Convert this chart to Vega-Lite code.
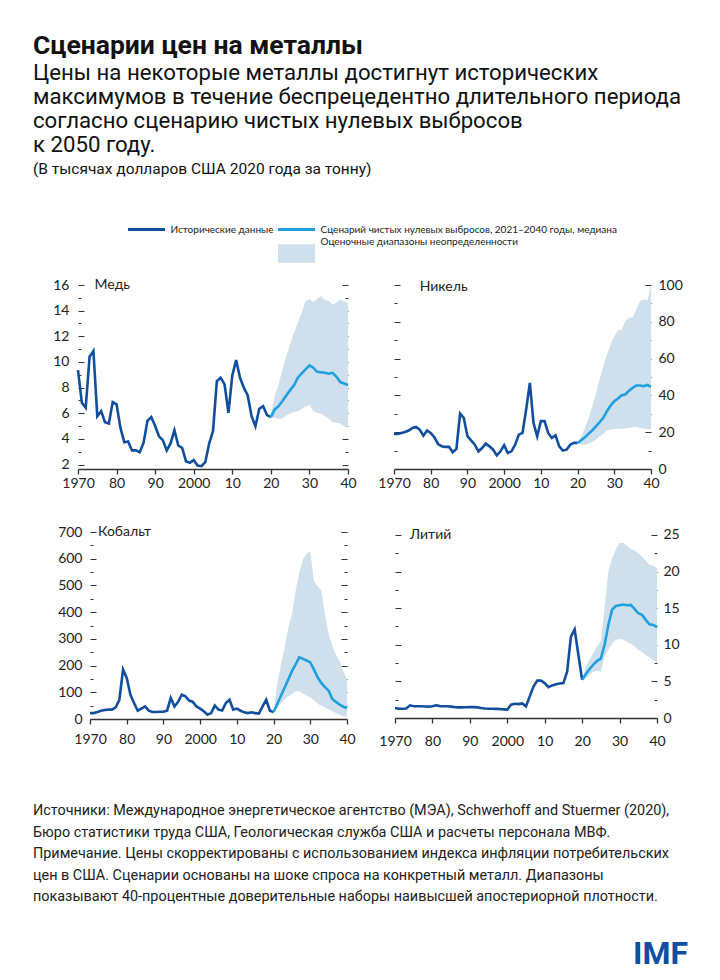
{
"$schema": "https://vega.github.io/schema/vega-lite/v6.json",
"background": "white",
"padding": {"left": 33, "top": 33, "right": 5, "bottom": 5},
"config": {"view": {"stroke": null}, "font": "Lato",
  "axis": {"labelFont": "Lato", "labelFontSize": 14, "labelColor": "#222", "tickColor": "#333", "domainColor": "#333", "grid": false},
  "axisX": {"domain": true, "domainWidth": 1.3, "domainColor": "#333", "ticks": true, "tickWidth": 1.3, "tickColor": "#333"}},
"title": {"text": "Сценарии цен на металлы",
  "subtitle": ["Цены на некоторые металлы достигнут исторических", "максимумов в течение беспрецедентно длительного периода", "согласно сценарию чистых нулевых выбросов", "к 2050 году."],
  "anchor": "start", "font": "Roboto", "fontSize": 26.5, "fontWeight": "bold", "color": "#111",
  "subtitleFont": "Roboto", "subtitleFontSize": 22.2, "subtitleColor": "#111", "subtitleLineHeight": 24, "subtitlePadding": 2, "offset": 6},
"datasets": {
"legend": [
 {"series": "Исторические данные", "kind": "line", "col": 0, "row": 0},
 {"series": "Сценарий чистых нулевых выбросов, 2021–2040 годы, медиана", "kind": "line", "col": 1, "row": 0},
 {"series": "Оценочные диапазоны неопределенности", "kind": "band", "col": 1, "row": 1}
],
"hist": [
{"m":"cu","year":1970,"value":9.36},{"m":"cu","year":1971,"value":6.81},{"m":"cu","year":1972,"value":6.42},{"m":"cu","year":1973,"value":10.4},{"m":"cu","year":1974,"value":10.85},{"m":"cu","year":1975,"value":5.77},{"m":"cu","year":1976,"value":6.16},{"m":"cu","year":1977,"value":5.3},{"m":"cu","year":1978,"value":5.2},{"m":"cu","year":1979,"value":6.87},
{"m":"cu","year":1980,"value":6.7},{"m":"cu","year":1981,"value":4.86},{"m":"cu","year":1982,"value":3.74},{"m":"cu","year":1983,"value":3.8},{"m":"cu","year":1984,"value":3.1},{"m":"cu","year":1985,"value":3.1},{"m":"cu","year":1986,"value":2.96},{"m":"cu","year":1987,"value":3.7},{"m":"cu","year":1988,"value":5.4},{"m":"cu","year":1989,"value":5.7},
{"m":"cu","year":1990,"value":5.0},{"m":"cu","year":1991,"value":4.2},{"m":"cu","year":1992,"value":3.9},{"m":"cu","year":1993,"value":3.1},{"m":"cu","year":1994,"value":3.64},{"m":"cu","year":1995,"value":4.68},{"m":"cu","year":1996,"value":3.48},{"m":"cu","year":1997,"value":3.3},{"m":"cu","year":1998,"value":2.26},{"m":"cu","year":1999,"value":2.13},
{"m":"cu","year":2000,"value":2.34},{"m":"cu","year":2001,"value":1.92},{"m":"cu","year":2002,"value":1.87},{"m":"cu","year":2003,"value":2.18},{"m":"cu","year":2004,"value":3.64},{"m":"cu","year":2005,"value":4.6},{"m":"cu","year":2006,"value":8.5},{"m":"cu","year":2007,"value":8.77},{"m":"cu","year":2008,"value":8.25},{"m":"cu","year":2009,"value":6.03},
{"m":"cu","year":2010,"value":8.95},{"m":"cu","year":2011,"value":10.14},{"m":"cu","year":2012,"value":8.77},{"m":"cu","year":2013,"value":7.99},{"m":"cu","year":2014,"value":7.39},{"m":"cu","year":2015,"value":5.77},{"m":"cu","year":2016,"value":4.99},{"m":"cu","year":2017,"value":6.35},{"m":"cu","year":2018,"value":6.55},{"m":"cu","year":2019,"value":5.85},{"m":"cu","year":2020,"value":5.7},
{"m":"ni","year":1970,"value":19.1},{"m":"ni","year":1971,"value":19},{"m":"ni","year":1972,"value":19.6},{"m":"ni","year":1973,"value":20.1},{"m":"ni","year":1974,"value":20.9},{"m":"ni","year":1975,"value":22.3},{"m":"ni","year":1976,"value":22.9},{"m":"ni","year":1977,"value":21.4},{"m":"ni","year":1978,"value":18.1},{"m":"ni","year":1979,"value":20.9},
{"m":"ni","year":1980,"value":19.6},{"m":"ni","year":1981,"value":17.2},{"m":"ni","year":1982,"value":13.6},{"m":"ni","year":1983,"value":12.3},{"m":"ni","year":1984,"value":12},{"m":"ni","year":1985,"value":12},{"m":"ni","year":1986,"value":9.1},{"m":"ni","year":1987,"value":10.9},{"m":"ni","year":1988,"value":30.1},{"m":"ni","year":1989,"value":27.8},
{"m":"ni","year":1990,"value":17.8},{"m":"ni","year":1991,"value":15.6},{"m":"ni","year":1992,"value":13.2},{"m":"ni","year":1993,"value":9.6},{"m":"ni","year":1994,"value":11.4},{"m":"ni","year":1995,"value":13.8},{"m":"ni","year":1996,"value":12.3},{"m":"ni","year":1997,"value":10.5},{"m":"ni","year":1998,"value":7.4},{"m":"ni","year":1999,"value":9.6},
{"m":"ni","year":2000,"value":12.9},{"m":"ni","year":2001,"value":8.7},{"m":"ni","year":2002,"value":9.6},{"m":"ni","year":2003,"value":13.2},{"m":"ni","year":2004,"value":18.7},{"m":"ni","year":2005,"value":19.6},{"m":"ni","year":2006,"value":32.3},{"m":"ni","year":2007,"value":46.8},{"m":"ni","year":2008,"value":25},{"m":"ni","year":2009,"value":17.8},
{"m":"ni","year":2010,"value":26},{"m":"ni","year":2011,"value":26},{"m":"ni","year":2012,"value":19.6},{"m":"ni","year":2013,"value":16.9},{"m":"ni","year":2014,"value":18.3},{"m":"ni","year":2015,"value":12.3},{"m":"ni","year":2016,"value":10},{"m":"ni","year":2017,"value":10.5},{"m":"ni","year":2018,"value":13.2},{"m":"ni","year":2019,"value":14.2},{"m":"ni","year":2020,"value":14.2},
{"m":"co","year":1970,"value":22},{"m":"co","year":1971,"value":22},{"m":"co","year":1972,"value":26},{"m":"co","year":1973,"value":31},{"m":"co","year":1974,"value":34},{"m":"co","year":1975,"value":35},{"m":"co","year":1976,"value":35},{"m":"co","year":1977,"value":44},{"m":"co","year":1978,"value":72},{"m":"co","year":1979,"value":185},
{"m":"co","year":1980,"value":154},{"m":"co","year":1981,"value":91},{"m":"co","year":1982,"value":60},{"m":"co","year":1983,"value":31},{"m":"co","year":1984,"value":39},{"m":"co","year":1985,"value":47},{"m":"co","year":1986,"value":31},{"m":"co","year":1987,"value":26},{"m":"co","year":1988,"value":26},{"m":"co","year":1989,"value":27},
{"m":"co","year":1990,"value":27},{"m":"co","year":1991,"value":31},{"m":"co","year":1992,"value":79},{"m":"co","year":1993,"value":47},{"m":"co","year":1994,"value":64},{"m":"co","year":1995,"value":91},{"m":"co","year":1996,"value":85},{"m":"co","year":1997,"value":69},{"m":"co","year":1998,"value":64},{"m":"co","year":1999,"value":47},
{"m":"co","year":2000,"value":39},{"m":"co","year":2001,"value":29},{"m":"co","year":2002,"value":16},{"m":"co","year":2003,"value":22},{"m":"co","year":2004,"value":50},{"m":"co","year":2005,"value":35},{"m":"co","year":2006,"value":32},{"m":"co","year":2007,"value":60},{"m":"co","year":2008,"value":72},{"m":"co","year":2009,"value":35},
{"m":"co","year":2010,"value":39},{"m":"co","year":2011,"value":31},{"m":"co","year":2012,"value":25},{"m":"co","year":2013,"value":22},{"m":"co","year":2014,"value":25},{"m":"co","year":2015,"value":22},{"m":"co","year":2016,"value":20},{"m":"co","year":2017,"value":47},{"m":"co","year":2018,"value":72},{"m":"co","year":2019,"value":31},{"m":"co","year":2020,"value":26},
{"m":"li","year":1970,"value":1.36},{"m":"li","year":1971,"value":1.27},{"m":"li","year":1972,"value":1.27},{"m":"li","year":1973,"value":1.3},{"m":"li","year":1974,"value":1.73},{"m":"li","year":1975,"value":1.6},{"m":"li","year":1976,"value":1.6},{"m":"li","year":1977,"value":1.6},{"m":"li","year":1978,"value":1.58},{"m":"li","year":1979,"value":1.55},
{"m":"li","year":1980,"value":1.6},{"m":"li","year":1981,"value":1.73},{"m":"li","year":1982,"value":1.62},{"m":"li","year":1983,"value":1.6},{"m":"li","year":1984,"value":1.6},{"m":"li","year":1985,"value":1.55},{"m":"li","year":1986,"value":1.48},{"m":"li","year":1987,"value":1.45},{"m":"li","year":1988,"value":1.45},{"m":"li","year":1989,"value":1.47},
{"m":"li","year":1990,"value":1.48},{"m":"li","year":1991,"value":1.48},{"m":"li","year":1992,"value":1.45},{"m":"li","year":1993,"value":1.36},{"m":"li","year":1994,"value":1.3},{"m":"li","year":1995,"value":1.27},{"m":"li","year":1996,"value":1.27},{"m":"li","year":1997,"value":1.25},{"m":"li","year":1998,"value":1.22},{"m":"li","year":1999,"value":1.18},
{"m":"li","year":2000,"value":1.14},{"m":"li","year":2001,"value":1.82},{"m":"li","year":2002,"value":1.95},{"m":"li","year":2003,"value":1.9},{"m":"li","year":2004,"value":2.0},{"m":"li","year":2005,"value":1.6},{"m":"li","year":2006,"value":2.95},{"m":"li","year":2007,"value":4.3},{"m":"li","year":2008,"value":5.1},{"m":"li","year":2009,"value":5.1},
{"m":"li","year":2010,"value":4.77},{"m":"li","year":2011,"value":4.2},{"m":"li","year":2012,"value":4.45},{"m":"li","year":2013,"value":4.6},{"m":"li","year":2014,"value":4.7},{"m":"li","year":2015,"value":4.77},{"m":"li","year":2016,"value":6.36},{"m":"li","year":2017,"value":11.1},{"m":"li","year":2018,"value":12.1},{"m":"li","year":2019,"value":8.6},{"m":"li","year":2020,"value":5.2}
],
"scen": [
{"m":"cu","year":2020,"median":5.7,"lo":5.7,"hi":5.9},{"m":"cu","year":2021,"median":6.3,"lo":5.64,"hi":7.33},{"m":"cu","year":2022,"median":6.55,"lo":5.57,"hi":8.25},{"m":"cu","year":2023,"median":6.95,"lo":5.6,"hi":9.42},{"m":"cu","year":2024,"median":7.39,"lo":5.83,"hi":10.46},{"m":"cu","year":2025,"median":7.8,"lo":5.98,"hi":11.37},{"m":"cu","year":2026,"median":8.17,"lo":6.09,"hi":12.28},{"m":"cu","year":2027,"median":8.77,"lo":6.16,"hi":13.06},{"m":"cu","year":2028,"median":9.1,"lo":6.35,"hi":13.84},{"m":"cu","year":2029,"median":9.42,"lo":6.5,"hi":14.75},{"m":"cu","year":2030,"median":9.73,"lo":6.68,"hi":14.88},{"m":"cu","year":2031,"median":9.55,"lo":6.16,"hi":14.67},{"m":"cu","year":2032,"median":9.23,"lo":6.03,"hi":14.93},{"m":"cu","year":2033,"median":9.2,"lo":5.98,"hi":15.14},{"m":"cu","year":2034,"median":9.15,"lo":5.77,"hi":14.83},{"m":"cu","year":2035,"median":9.08,"lo":5.57,"hi":14.75},{"m":"cu","year":2036,"median":9.15,"lo":5.3,"hi":14.49},{"m":"cu","year":2037,"median":8.84,"lo":5.25,"hi":14.62},{"m":"cu","year":2038,"median":8.43,"lo":5.2,"hi":14.88},{"m":"cu","year":2039,"median":8.32,"lo":4.99,"hi":14.75},{"m":"cu","year":2040,"median":8.2,"lo":4.86,"hi":14.57},
{"m":"ni","year":2020,"median":14.2,"lo":14.2,"hi":14.2},{"m":"ni","year":2021,"median":15.6,"lo":13.2,"hi":17.8},{"m":"ni","year":2022,"median":17.2,"lo":13.2,"hi":22.3},{"m":"ni","year":2023,"median":19.2,"lo":13.8,"hi":27.8},{"m":"ni","year":2024,"median":21,"lo":14.7,"hi":34.1},{"m":"ni","year":2025,"median":23.2,"lo":16,"hi":41},{"m":"ni","year":2026,"median":25.4,"lo":17.8,"hi":48.6},{"m":"ni","year":2027,"median":27.8,"lo":19.2,"hi":55.9},{"m":"ni","year":2028,"median":31.4,"lo":20.9,"hi":62.2},{"m":"ni","year":2029,"median":34.5,"lo":21.4,"hi":67.7},{"m":"ni","year":2030,"median":36.8,"lo":21.8,"hi":72.2},{"m":"ni","year":2031,"median":38.3,"lo":22,"hi":75.5},{"m":"ni","year":2032,"median":40.1,"lo":21.8,"hi":75.3},{"m":"ni","year":2033,"median":40.5,"lo":22,"hi":80.4},{"m":"ni","year":2034,"median":42.6,"lo":22.3,"hi":82.2},{"m":"ni","year":2035,"median":44.1,"lo":22.7,"hi":82.2},{"m":"ni","year":2036,"median":45.4,"lo":22.9,"hi":86.8},{"m":"ni","year":2037,"median":45.4,"lo":22.3,"hi":91.3},{"m":"ni","year":2038,"median":45,"lo":22,"hi":92.2},{"m":"ni","year":2039,"median":45.7,"lo":21.8,"hi":91.7},{"m":"ni","year":2040,"median":44.6,"lo":21.8,"hi":99.5},
{"m":"co","year":2020,"median":26,"lo":26,"hi":26},{"m":"co","year":2021,"median":56,"lo":41,"hi":129},{"m":"co","year":2022,"median":87,"lo":60,"hi":204},{"m":"co","year":2023,"median":117,"lo":72,"hi":266},{"m":"co","year":2024,"median":148,"lo":85,"hi":341},{"m":"co","year":2025,"median":179,"lo":94,"hi":391},{"m":"co","year":2026,"median":204,"lo":104,"hi":479},{"m":"co","year":2027,"median":231,"lo":104,"hi":548},{"m":"co","year":2028,"median":225,"lo":95,"hi":598},{"m":"co","year":2029,"median":219,"lo":87,"hi":619},{"m":"co","year":2030,"median":212,"lo":81,"hi":629},{"m":"co","year":2031,"median":185,"lo":70,"hi":516},{"m":"co","year":2032,"median":156,"lo":57,"hi":497},{"m":"co","year":2033,"median":135,"lo":50,"hi":481},{"m":"co","year":2034,"median":119,"lo":44,"hi":391},{"m":"co","year":2035,"median":106,"lo":36,"hi":316},{"m":"co","year":2036,"median":75,"lo":29,"hi":273},{"m":"co","year":2037,"median":64,"lo":22,"hi":241},{"m":"co","year":2038,"median":54,"lo":16,"hi":216},{"m":"co","year":2039,"median":46,"lo":11,"hi":179},{"m":"co","year":2040,"median":41,"lo":7,"hi":148},
{"m":"li","year":2020,"median":5.2,"lo":5.2,"hi":5.2},{"m":"li","year":2021,"median":6.0,"lo":5.45,"hi":7.0},{"m":"li","year":2022,"median":6.7,"lo":5.9,"hi":8.0},{"m":"li","year":2023,"median":7.3,"lo":6.3,"hi":8.9},{"m":"li","year":2024,"median":7.8,"lo":6.45,"hi":9.8},{"m":"li","year":2025,"median":8.1,"lo":6.3,"hi":10.5},{"m":"li","year":2026,"median":10,"lo":8.4,"hi":15},{"m":"li","year":2027,"median":12.7,"lo":9.3,"hi":20},{"m":"li","year":2028,"median":14.8,"lo":10.1,"hi":21.8},{"m":"li","year":2029,"median":15.3,"lo":10.7,"hi":23},{"m":"li","year":2030,"median":15.4,"lo":10.8,"hi":23.9},{"m":"li","year":2031,"median":15.5,"lo":10.7,"hi":23.9},{"m":"li","year":2032,"median":15.4,"lo":10.4,"hi":23.5},{"m":"li","year":2033,"median":15.45,"lo":10.1,"hi":23.1},{"m":"li","year":2034,"median":14.9,"lo":9.8,"hi":22.9},{"m":"li","year":2035,"median":14.3,"lo":9.3,"hi":22.5},{"m":"li","year":2036,"median":14.1,"lo":9,"hi":22},{"m":"li","year":2037,"median":13.4,"lo":8.6,"hi":21.5},{"m":"li","year":2038,"median":12.8,"lo":8.3,"hi":20.9},{"m":"li","year":2039,"median":12.7,"lo":7.95,"hi":20.8},{"m":"li","year":2040,"median":12.4,"lo":7.5,"hi":20.5}
]
},
"spacing": 15,
"vconcat": [
{
 "width": 600, "height": 40,
 "title": {"text": "(В тысячах долларов США 2020 года за тонну)", "anchor": "start", "frame": "group", "dx": -45, "font": "Roboto", "fontSize": 15.5, "fontWeight": "normal", "color": "#111", "offset": 43.5},
 "data": {"name": "legend"},
 "layer": [
  {"transform": [{"filter": "datum.kind == 'line'"}],
   "mark": {"type": "point", "shape": "M-1,0L1,0", "filled": false, "strokeWidth": 3, "size": 1369, "opacity": 1},
   "encoding": {
    "x": {"field": "col", "type": "quantitative", "scale": {"domain": [0, 1], "range": [68.5, 218.5]}, "axis": null},
    "y": {"field": "row", "type": "quantitative", "scale": {"domain": [0, 1], "range": [8.5, 21]}, "axis": null},
    "color": {"field": "series", "type": "nominal", "scale": {"domain": ["Исторические данные", "Сценарий чистых нулевых выбросов, 2021–2040 годы, медиана"], "range": ["#114f9e", "#1ea0e0"]}, "legend": null}}},
  {"transform": [{"filter": "datum.kind == 'band'"}],
   "mark": {"type": "point", "shape": "M-1,-0.5L1,-0.5L1,0.5L-1,0.5Z", "filled": true, "color": "#d0dfec", "size": 1369, "opacity": 1, "yOffset": 11.5},
   "encoding": {
    "x": {"field": "col", "type": "quantitative"},
    "y": {"field": "row", "type": "quantitative"}}},
  {"mark": {"type": "text", "align": "left", "baseline": "middle", "dx": 24, "font": "Lato", "fontSize": 10, "color": "#222"},
   "encoding": {
    "x": {"field": "col", "type": "quantitative"},
    "y": {"field": "row", "type": "quantitative"},
    "text": {"field": "series"}}}
 ]
},
{
 "spacing": 35,
 "vconcat": [
 {"spacing": 20, "hconcat": [
  {
   "width": 270, "height": 184,
   "layer": [
    {"data": {"name": "scen"}, "transform": [{"filter": "datum.m == 'cu'"}],
     "mark": {"type": "area", "color": "#d0dfec", "opacity": 1},
     "encoding": {
      "x": {"field": "year", "type": "quantitative", "scale": {"domain": [1970, 2040], "nice": false, "zero": false},
            "axis": {"title": null, "values": [1970, 1980, 1990, 2000, 2010, 2020, 2030, 2040], "labelExpr": "datum.value == 1970 || datum.value == 2000 ? format(datum.value, 'd') : slice(format(datum.value, 'd'), 2)", "domain": true, "ticks": true, "tickSize": 5, "labelPadding": 2, "labelFlush": false, "labelOverlap": false}},
      "y": {"field": "lo", "type": "quantitative", "scale": {"domain": [1.65, 16], "nice": false, "zero": false},
            "axis": {"orient": "left", "title": null, "values": [2, 4, 6, 8, 10, 12, 14, 16], "domain": false, "tickSize": -6, "labelPadding": 15, "minExtent": 45}},
      "y2": {"field": "hi"}}},
    {"data": {"name": "hist"}, "transform": [{"filter": "datum.m == 'cu'"}],
     "mark": {"type": "line", "color": "#114f9e", "strokeWidth": 2.6},
     "encoding": {
      "x": {"field": "year", "type": "quantitative", "axis": null},
      "y": {"field": "value", "type": "quantitative", "axis": {"orient": "left", "title": null, "values": [3, 5, 7, 9, 11, 13, 15], "domain": false, "labels": false, "tickSize": -3, "minExtent": 0}}}},
    {"data": {"name": "scen"}, "transform": [{"filter": "datum.m == 'cu'"}],
     "mark": {"type": "line", "color": "#1ea0e0", "strokeWidth": 2.6},
     "encoding": {
      "x": {"field": "year", "type": "quantitative", "axis": null},
      "y": {"field": "median", "type": "quantitative", "axis": {"orient": "right", "title": null, "values": [2, 4, 6, 8, 10, 12, 14, 16], "domain": false, "labels": false, "tickSize": -6, "minExtent": 0}}}},
    {"data": {"values": [{}]},
     "mark": {"type": "text", "align": "left", "baseline": "middle", "font": "Lato", "fontSize": 14, "color": "#222"},
     "encoding": {
      "x": {"datum": 1974.3, "type": "quantitative", "axis": null},
      "y": {"datum": 16, "type": "quantitative", "axis": {"orient": "right", "title": null, "values": [3, 5, 7, 9, 11, 13, 15], "domain": false, "labels": false, "tickSize": -3, "minExtent": 0}},
      "text": {"value": "Медь"}}}
   ],
   "resolve": {"axis": {"x": "independent", "y": "independent"}}
  },
  {
   "width": 257, "height": 184,
   "layer": [
    {"data": {"name": "scen"}, "transform": [{"filter": "datum.m == 'ni'"}],
     "mark": {"type": "area", "color": "#d0dfec", "opacity": 1},
     "encoding": {
      "x": {"field": "year", "type": "quantitative", "scale": {"domain": [1970, 2040], "nice": false, "zero": false},
            "axis": {"title": null, "values": [1970, 1980, 1990, 2000, 2010, 2020, 2030, 2040], "labelExpr": "datum.value == 1970 || datum.value == 2000 ? format(datum.value, 'd') : slice(format(datum.value, 'd'), 2)", "domain": true, "ticks": true, "tickSize": 5, "labelPadding": 2, "labelFlush": false, "labelOverlap": false}},
      "y": {"field": "lo", "type": "quantitative", "scale": {"domain": [0, 100], "nice": false, "zero": false},
            "axis": {"orient": "right", "title": null, "values": [0, 20, 40, 60, 80, 100], "domain": false, "tickSize": -6, "labelPadding": 13, "minExtent": 0}},
      "y2": {"field": "hi"}}},
    {"data": {"name": "hist"}, "transform": [{"filter": "datum.m == 'ni'"}],
     "mark": {"type": "line", "color": "#114f9e", "strokeWidth": 2.6},
     "encoding": {
      "x": {"field": "year", "type": "quantitative", "axis": null},
      "y": {"field": "value", "type": "quantitative", "axis": {"orient": "left", "title": null, "values": [20, 40, 60, 80, 100], "domain": false, "labels": false, "tickSize": -6, "minExtent": 0}}}},
    {"data": {"name": "scen"}, "transform": [{"filter": "datum.m == 'ni'"}],
     "mark": {"type": "line", "color": "#1ea0e0", "strokeWidth": 2.6},
     "encoding": {
      "x": {"field": "year", "type": "quantitative", "axis": null},
      "y": {"field": "median", "type": "quantitative", "axis": {"orient": "left", "title": null, "values": [10, 30, 50, 70, 90], "domain": false, "labels": false, "tickSize": -3, "minExtent": 0}}}},
    {"data": {"values": [{}]},
     "mark": {"type": "text", "align": "left", "baseline": "middle", "font": "Lato", "fontSize": 14, "color": "#222"},
     "encoding": {
      "x": {"datum": 1977, "type": "quantitative", "axis": null},
      "y": {"datum": 99, "type": "quantitative", "axis": {"orient": "right", "title": null, "values": [10, 30, 50, 70, 90], "domain": false, "labels": false, "tickSize": -3, "minExtent": 0}},
      "text": {"value": "Никель"}}}
   ],
   "resolve": {"axis": {"x": "independent", "y": "independent"}}
  }
 ]},
 {"spacing": 22, "hconcat": [
  {
   "width": 269, "height": 187,
   "layer": [
    {"data": {"name": "scen"}, "transform": [{"filter": "datum.m == 'co'"}],
     "mark": {"type": "area", "color": "#d0dfec", "opacity": 1},
     "encoding": {
      "x": {"field": "year", "type": "quantitative", "scale": {"domain": [1970, 2040], "range": [12, 269], "nice": false, "zero": false},
            "axis": {"title": null, "values": [1970, 1980, 1990, 2000, 2010, 2020, 2030, 2040], "labelExpr": "datum.value == 1970 || datum.value == 2000 ? format(datum.value, 'd') : slice(format(datum.value, 'd'), 2)", "domain": true, "ticks": true, "tickSize": 5, "labelPadding": 8, "labelFlush": false, "labelOverlap": false}},
      "y": {"field": "lo", "type": "quantitative", "scale": {"domain": [0, 700], "nice": false, "zero": false},
            "axis": {"orient": "left", "offset": -12, "title": null, "values": [0, 100, 200, 300, 400, 500, 600, 700], "domain": false, "tickSize": -6, "labelPadding": 14, "minExtent": 0}},
      "y2": {"field": "hi"}}},
    {"data": {"name": "hist"}, "transform": [{"filter": "datum.m == 'co'"}],
     "mark": {"type": "line", "color": "#114f9e", "strokeWidth": 2.6},
     "encoding": {
      "x": {"field": "year", "type": "quantitative", "axis": null},
      "y": {"field": "value", "type": "quantitative", "axis": {"orient": "left", "offset": -12, "title": null, "values": [50, 150, 250, 350, 450, 550, 650], "domain": false, "labels": false, "tickSize": -3, "minExtent": 0}}}},
    {"data": {"name": "scen"}, "transform": [{"filter": "datum.m == 'co'"}],
     "mark": {"type": "line", "color": "#1ea0e0", "strokeWidth": 2.6},
     "encoding": {
      "x": {"field": "year", "type": "quantitative", "axis": null},
      "y": {"field": "median", "type": "quantitative", "axis": {"orient": "right", "title": null, "values": [100, 200, 300, 400, 500, 600, 700], "domain": false, "labels": false, "tickSize": -6, "minExtent": 0}}}},
    {"data": {"values": [{}]},
     "mark": {"type": "text", "align": "left", "baseline": "middle", "font": "Lato", "fontSize": 14, "color": "#222"},
     "encoding": {
      "x": {"datum": 1972.2, "type": "quantitative", "axis": null},
      "y": {"datum": 700, "type": "quantitative", "axis": {"orient": "right", "title": null, "values": [50, 150, 250, 350, 450, 550, 650], "domain": false, "labels": false, "tickSize": -3, "minExtent": 0}},
      "text": {"value": "Кобальт"}}}
   ],
   "resolve": {"axis": {"x": "independent", "y": "independent"}}
  },
  {
   "width": 262, "height": 186,
   "layer": [
    {"data": {"name": "scen"}, "transform": [{"filter": "datum.m == 'li'"}],
     "mark": {"type": "area", "color": "#d0dfec", "opacity": 1},
     "encoding": {
      "x": {"field": "year", "type": "quantitative", "scale": {"domain": [1970, 2040], "nice": false, "zero": false},
            "axis": {"title": null, "values": [1970, 1980, 1990, 2000, 2010, 2020, 2030, 2040], "labelExpr": "datum.value == 1970 || datum.value == 2000 ? format(datum.value, 'd') : slice(format(datum.value, 'd'), 2)", "domain": true, "ticks": true, "tickSize": 5, "labelPadding": 11, "labelFlush": false, "labelOverlap": false}},
      "y": {"field": "lo", "type": "quantitative", "scale": {"domain": [0, 25.4], "nice": false, "zero": false},
            "axis": {"orient": "right", "title": null, "values": [0, 5, 10, 15, 20, 25], "domain": false, "tickSize": -6, "labelPadding": 12, "minExtent": 0}},
      "y2": {"field": "hi"}}},
    {"data": {"name": "hist"}, "transform": [{"filter": "datum.m == 'li'"}],
     "mark": {"type": "line", "color": "#114f9e", "strokeWidth": 2.6},
     "encoding": {
      "x": {"field": "year", "type": "quantitative", "axis": null},
      "y": {"field": "value", "type": "quantitative", "axis": {"orient": "left", "title": null, "values": [5, 10, 15, 20, 25], "domain": false, "labels": false, "tickSize": -6, "minExtent": 0}}}},
    {"data": {"name": "scen"}, "transform": [{"filter": "datum.m == 'li'"}],
     "mark": {"type": "line", "color": "#1ea0e0", "strokeWidth": 2.6},
     "encoding": {
      "x": {"field": "year", "type": "quantitative", "axis": null},
      "y": {"field": "median", "type": "quantitative", "axis": {"orient": "left", "title": null, "values": [2.5, 7.5, 12.5, 17.5, 22.5], "domain": false, "labels": false, "tickSize": -3, "minExtent": 0}}}},
    {"data": {"values": [{}]},
     "mark": {"type": "text", "align": "left", "baseline": "middle", "font": "Lato", "fontSize": 14, "color": "#222"},
     "encoding": {
      "x": {"datum": 1974, "type": "quantitative", "axis": null},
      "y": {"datum": 25, "type": "quantitative", "axis": {"orient": "right", "title": null, "values": [2.5, 7.5, 12.5, 17.5, 22.5], "domain": false, "labels": false, "tickSize": -3, "minExtent": 0}},
      "text": {"value": "Литий"}}}
   ],
   "resolve": {"axis": {"x": "independent", "y": "independent"}}
  }
 ]}
 ]
},
{
 "width": 610, "height": 201,
 "data": {"values": [{}]},
 "layer": [
  {"mark": {"type": "text", "align": "left", "baseline": "top", "font": "Roboto", "fontSize": 14.4, "lineHeight": 21.6, "lineBreak": "\n", "color": "#222"},
   "encoding": {"x": {"value": -45}, "y": {"value": 41},
    "text": {"value": "Источники: Международное энергетическое агентство (МЭА), Schwerhoff and Stuermer (2020),\nБюро статистики труда США, Геологическая служба США и расчеты персонала МВФ.\nПримечание. Цены скорректированы с использованием индекса инфляции потребительских\nцен в США. Сценарии основаны на шоке спроса на конкретный металл. Диапазоны\nпоказывают 40-процентные доверительные наборы наивысшей апостериорной плотности."}}},
  {"mark": {"type": "text", "align": "right", "baseline": "alphabetic", "font": "Roboto", "fontSize": 32, "fontWeight": "bold", "color": "#0b4ea2"},
   "encoding": {"x": {"value": 610}, "y": {"value": 201}, "text": {"value": "IMF"}}}
 ]
}
]
}
